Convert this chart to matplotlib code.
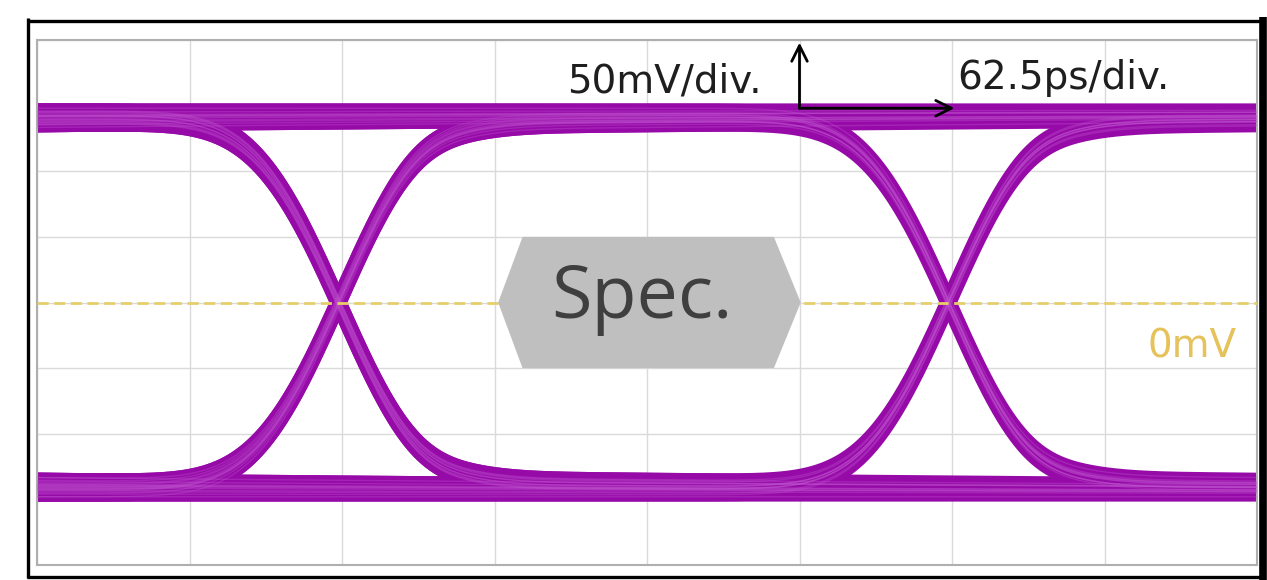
import numpy as np
import matplotlib
matplotlib.use("Agg")
import matplotlib.pyplot as plt
from matplotlib.patches import Polygon
from matplotlib.lines import Line2D
from math import erf

# ---------------- data ----------------
TIME_PER_DIV_PS = 62.5
VOLT_PER_DIV_MV = 50.0
N_DIV_X = 8
N_DIV_Y = 8
UI_PS = 250.0
FIRST_CROSSING_PS = 125.0
LEVEL_MV = 148.0
EDGE_SIGMA_PS = 40.0
ISI_FRACTION = 0.055
ISI_DELAY_PS = 40.0
ISI_ONSET_PS = 20.0
ISI_TAU_PS = 800.0
HISTORY_BITS = 7          # bits before / inside the 2-UI window

spec_mask_t_ps = [189, 199, 302, 313, 302, 199]
spec_mask_v_mv = [0, 50, 50, 0, -50, -50]

scale_origin = (312.5, 148.0)
volt_arrow_tip = (312.5, 198.0)
time_arrow_tip = (376.0, 148.0)
label_volt = "50mV/div."
label_time = "62.5ps/div."
label_zero = "0mV"
label_spec = "Spec."

# ---------------- model ----------------
verf = np.vectorize(erf)


def step_response(tau):
    fast = 0.5 * (1 + verf(tau / EDGE_SIGMA_PS))
    onset = 0.5 * (1 + verf((tau - ISI_DELAY_PS) / ISI_ONSET_PS))
    tail = ISI_FRACTION * onset * np.exp(-np.clip(tau - ISI_DELAY_PS, 0, None) / ISI_TAU_PS)
    return fast - tail


t = np.linspace(0, TIME_PER_DIV_PS * N_DIV_X, 1201)
n_slots = HISTORY_BITS
last_boundary = FIRST_CROSSING_PS + UI_PS
boundaries = [last_boundary - UI_PS * k for k in range(n_slots - 2, -1, -1)]

traces = []
for code in range(2 ** n_slots):
    bits = [1 if (code >> k) & 1 else -1 for k in range(n_slots)]
    v = np.full_like(t, bits[0] * LEVEL_MV)
    for j in range(1, n_slots):
        d = bits[j] - bits[j - 1]
        if d != 0:
            v = v + d * LEVEL_MV * step_response(t - boundaries[j - 1])
    traces.append(v)

# ---------------- figure ----------------
W, H = 1267, 580
fig = plt.figure(figsize=(W / 100, H / 100), dpi=100)
ax = fig.add_axes([37 / W, 1 - 565 / H, (1257 - 37) / W, (565 - 40) / H])
xmax = TIME_PER_DIV_PS * N_DIV_X
ymax = VOLT_PER_DIV_MV * N_DIV_Y / 2
ax.set_xlim(0, xmax)
ax.set_ylim(-ymax, ymax)
ax.set_xticks(np.arange(0, xmax + 1, TIME_PER_DIV_PS))
ax.set_yticks(np.arange(-ymax, ymax + 1, VOLT_PER_DIV_MV))
ax.grid(True, color="#DADADA", lw=1.0, zorder=0)
ax.tick_params(length=0, labelbottom=False, labelleft=False)
for sp in ax.spines.values():
    sp.set_color("#AFAFAF")
    sp.set_linewidth(1.5)

for v in traces:
    ax.plot(t, v, color="#960AA8", lw=7.0, solid_capstyle="butt", zorder=2)
for v in traces[::3]:
    ax.plot(t, v, color="#C055CF", lw=1.0, alpha=0.35, zorder=3)

plt.rcParams["lines.scale_dashes"] = False
ax.plot([0, xmax], [0, 0], color="#E6CF6A", lw=2.0, dashes=(8, 4), zorder=4)

ax.add_patch(Polygon(list(zip(spec_mask_t_ps, spec_mask_v_mv)), closed=True,
                     facecolor="#BFBFBF", edgecolor="none", zorder=5))
ax.text(248, -12, label_spec, fontsize=53, family="Open Sans", color="#3F3F3F",
        ha="center", va="baseline", zorder=6)

ax.annotate("", xy=volt_arrow_tip, xytext=scale_origin,
            arrowprops=dict(arrowstyle="->", lw=2, color="black", mutation_scale=28,
                            shrinkA=0, shrinkB=0), zorder=7)
ax.annotate("", xy=time_arrow_tip, xytext=scale_origin,
            arrowprops=dict(arrowstyle="->", lw=2, color="black", mutation_scale=28,
                            shrinkA=0, shrinkB=0), zorder=7)
ax.text(297, 160, label_volt, fontsize=28, color="#1E1E1E", ha="right", va="baseline", zorder=7)
ax.text(377, 163, label_time, fontsize=28, color="#1E1E1E", ha="left", va="baseline", zorder=7)
ax.text(455, -42, label_zero, fontsize=28, color="#E6C25A", ha="left", va="baseline", zorder=7)


def fline(x0, y0, x1, y1, lw):
    fig.add_artist(Line2D([x0 / W, x1 / W], [1 - y0 / H, 1 - y1 / H], color="black",
                          lw=lw, solid_capstyle="butt"))


fline(28, 18, 28, 578, 2.4)
fline(27, 20.5, 1262, 20.5, 2.4)
fline(27, 577, 1262, 577, 2.4)
fline(1263, 17, 1263, 580, 5.5)

fig.savefig("out.png", dpi=100)
